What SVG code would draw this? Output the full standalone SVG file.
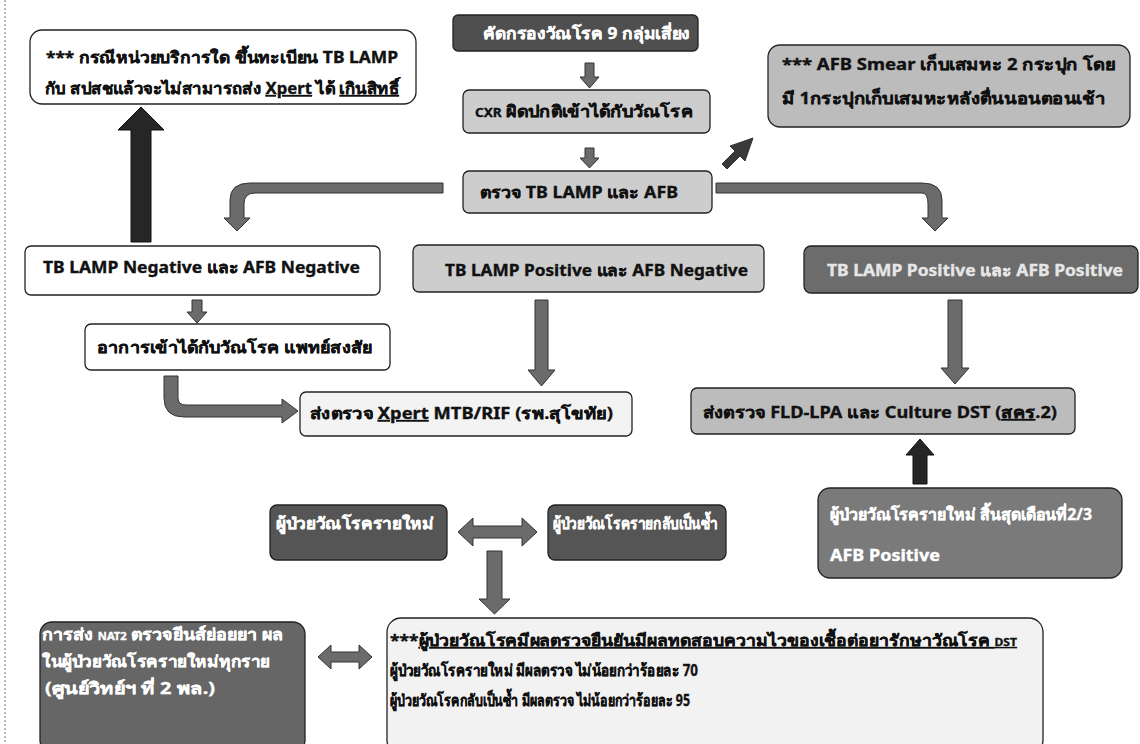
<svg xmlns="http://www.w3.org/2000/svg" width="1140" height="744" viewBox="0 0 1140 744">
<defs>
<style>
text{font-family:'Noto Sans','DejaVu Sans','Liberation Sans',sans-serif;font-weight:bold;font-size:16px;fill:#111;stroke:#111;stroke-width:0.35}
.w{fill:#fff;stroke:#fff}
.lt{fill:#e6e6e6;stroke:#e6e6e6}
.box{stroke:#222;stroke-width:1.3}
.wb{fill:#fff}
.dk{fill:#4f4f4f}
.lg{fill:#cdcdcd}
.mg{fill:#bcbcbc}
.arr{fill:#6b6b6b;stroke:#333;stroke-width:1}
.blk{fill:#262626;stroke:#111;stroke-width:1}
.u{text-decoration:underline}
</style>
</defs>
<rect x="0" y="0" width="1140" height="744" fill="#fff"/>
<line x1="5" y1="0" x2="5" y2="744" stroke="#777" stroke-width="1" stroke-dasharray="2,2"/>

<g id="connectors">
<path class="arr" d="M585,63 H594 V77 H599 L589.5,88 L580,77 H585 Z"/>
<path class="arr" d="M585,148 H594 V158 H599 L589.5,168 L580,158 H585 Z"/>
<path class="arr" d="M727,169 L740,156 L745,161 L753,138 L730,146 L735,151 L722,164 Z" style="fill:#3a3a3a"/>
<path class="arr" d="M443,183 L443,193 L255,193 Q244,193 244,204 L244,218 L250,218 L237,231 L224,218 L230,218 L230,200 Q230,183 250,183 Z"/>
<path class="arr" d="M716,183 L716,193 L922,193 Q928,193 928,204 L928,218 L922,218 L935,231 L948,218 L942,218 L942,200 Q942,183 922,183 Z"/>
<path class="blk" d="M131,242 V130 H118 L141,107 L164,130 H151 V242 Z"/>
<path class="arr" d="M192,300 H202 V312 H207 L197,323 L187,312 H192 Z"/>
<path class="arr" d="M164,376 L178,376 L178,398 Q178,405 186,405 L282,405 L282,399 L298,411 L282,423 L282,417 L184,417 Q164,417 164,398 Z"/>
<path class="arr" d="M535,300 H548 V370 H555 L541.5,386 L528,370 H535 Z"/>
<path class="arr" d="M948,300 H962 V368 H969 L955,384 L941,368 H948 Z"/>
<path class="blk" d="M913,484 V455 H906 L920,439 L934,455 H927 V484 Z"/>
<path class="arr" d="M458,532 L473,518 L473,526 L522,526 L522,518 L537,532 L522,546 L522,538 L473,538 L473,546 Z"/>
<path class="arr" d="M487,551 H502 V599 H510 L494.5,614 L479,599 H487 Z"/>
<path class="arr" d="M318,657 L331,645 L331,652 L359,652 L359,645 L372,657 L359,669 L359,662 L331,662 L331,669 Z"/>
</g>

<g id="note-left">
<rect class="box wb" x="30" y="30" width="386" height="74" rx="12"/>
<text x="46" y="63" textLength="352" lengthAdjust="spacingAndGlyphs">*** กรณีหน่วยบริการใด ขึ้นทะเบียน TB LAMP</text>
<text x="45" y="94" textLength="354" lengthAdjust="spacingAndGlyphs">กับ สปสชแล้วจะไม่สามารถส่ง <tspan class="u">Xpert</tspan> ได้ <tspan class="u">เกินสิทธิ์</tspan></text>
</g>

<g id="screen">
<rect class="box dk" x="453" y="15" width="245" height="36" rx="5"/>
<text class="w" x="483" y="39" textLength="207" lengthAdjust="spacingAndGlyphs">คัดกรองวัณโรค 9 กลุ่มเสี่ยง</text>
</g>

<g id="cxr">
<rect class="box lg" x="463" y="90" width="247" height="43" rx="6"/>
<text x="475" y="117" textLength="218" lengthAdjust="spacingAndGlyphs"><tspan font-size="12">CXR</tspan> ผิดปกติเข้าได้กับวัณโรค</text>
</g>

<g id="test">
<rect class="box lg" x="463" y="171" width="249" height="42" rx="6"/>
<text x="480" y="198" textLength="198" lengthAdjust="spacingAndGlyphs">ตรวจ TB LAMP และ AFB</text>
</g>

<g id="note-right">
<rect class="box mg" x="768" y="45" width="362" height="82" rx="12"/>
<text x="782" y="70" textLength="333" lengthAdjust="spacingAndGlyphs">*** AFB Smear เก็บเสมหะ 2 กระปุก โดย</text>
<text x="782" y="104" textLength="323" lengthAdjust="spacingAndGlyphs">มี 1กระปุกเก็บเสมหะหลังตื่นนอนตอนเช้า</text>
</g>

<g id="neg-neg">
<rect class="box wb" x="25" y="246" width="355" height="49" rx="6"/>
<text x="43" y="273" textLength="317" lengthAdjust="spacingAndGlyphs">TB LAMP Negative และ AFB Negative</text>
</g>

<g id="symptom">
<rect class="box wb" x="85" y="324" width="305" height="46" rx="6"/>
<text x="97" y="353" textLength="275" lengthAdjust="spacingAndGlyphs">อาการเข้าได้กับวัณโรค แพทย์สงสัย</text>
</g>

<g id="pos-neg">
<rect class="box lg" x="413" y="245" width="351" height="47" rx="6"/>
<text x="445" y="276" textLength="303" lengthAdjust="spacingAndGlyphs">TB LAMP Positive และ AFB Negative</text>
</g>

<g id="pos-pos">
<rect class="box" x="804" y="246" width="334" height="47" rx="7" fill="#6c6c6c"/>
<text class="lt" x="827" y="276" textLength="296" lengthAdjust="spacingAndGlyphs">TB LAMP Positive และ AFB Positive</text>
</g>

<g id="xpert">
<rect class="box" x="300" y="392" width="332" height="44" rx="6" fill="#f3f3f3"/>
<text x="310" y="419" textLength="303" lengthAdjust="spacingAndGlyphs">ส่งตรวจ <tspan class="u">Xpert</tspan> MTB/RIF (รพ.สุโขทัย)</text>
</g>

<g id="fld">
<rect class="box mg" x="691" y="388" width="384" height="46" rx="6"/>
<text x="703" y="418" textLength="354" lengthAdjust="spacingAndGlyphs">ส่งตรวจ FLD-LPA และ Culture DST (<tspan class="u">สคร</tspan>.2)</text>
</g>

<g id="new-case">
<rect class="box" x="270" y="505" width="177" height="55" rx="7" fill="#555"/>
<text class="w" x="276" y="529" textLength="158" lengthAdjust="spacingAndGlyphs">ผู้ป่วยวัณโรครายใหม่</text>
</g>

<g id="relapse">
<rect class="box" x="548" y="505" width="178" height="55" rx="7" fill="#555"/>
<text class="w" x="553" y="529" textLength="165" lengthAdjust="spacingAndGlyphs">ผู้ป่วยวัณโรครายกลับเป็นซ้ำ</text>
</g>

<g id="followup">
<rect class="box" x="818" y="488" width="304" height="90" rx="12" fill="#7a7a7a"/>
<text class="w" x="830" y="520" textLength="262" lengthAdjust="spacingAndGlyphs">ผู้ป่วยวัณโรครายใหม่ สิ้นสุดเดือนที่2/3</text>
<text class="w" x="830" y="561" textLength="110" lengthAdjust="spacingAndGlyphs">AFB Positive</text>
</g>

<g id="nat2">
<rect class="box" x="40" y="622" width="265" height="130" rx="12" fill="#666"/>
<text class="w" x="42" y="640" font-size="14" textLength="241" lengthAdjust="spacingAndGlyphs">การส่ง <tspan font-size="10">NAT2</tspan> ตรวจยีนส์ย่อยยา ผล</text>
<text class="w" x="42" y="667" font-size="15" textLength="228" lengthAdjust="spacingAndGlyphs">ในผู้ป่วยวัณโรครายใหม่ทุกราย</text>
<text class="w" x="45" y="694" font-size="14" textLength="170" lengthAdjust="spacingAndGlyphs">(ศูนย์วิทย์ฯ ที่ 2 พล.)</text>
</g>

<g id="dst-note">
<rect class="box" x="387" y="618" width="656" height="136" rx="14" fill="#f2f2f2"/>
<text x="390" y="646" font-size="16" textLength="627" lengthAdjust="spacingAndGlyphs">***<tspan class="u">ผู้ป่วยวัณโรคมีผลตรวจยืนยันมีผลทดสอบความไวของเชื้อต่อยารักษาวัณโรค <tspan font-size="11">DST</tspan></tspan></text>
<text x="390" y="676" font-size="16" textLength="308" lengthAdjust="spacingAndGlyphs">ผู้ป่วยวัณโรครายใหม่ มีผลตรวจ ไม่น้อยกว่าร้อยละ 70</text>
<text x="390" y="706" font-size="16" textLength="300" lengthAdjust="spacingAndGlyphs">ผู้ป่วยวัณโรคกลับเป็นซ้ำ มีผลตรวจ ไม่น้อยกว่าร้อยละ 95</text>
</g>
</svg>
